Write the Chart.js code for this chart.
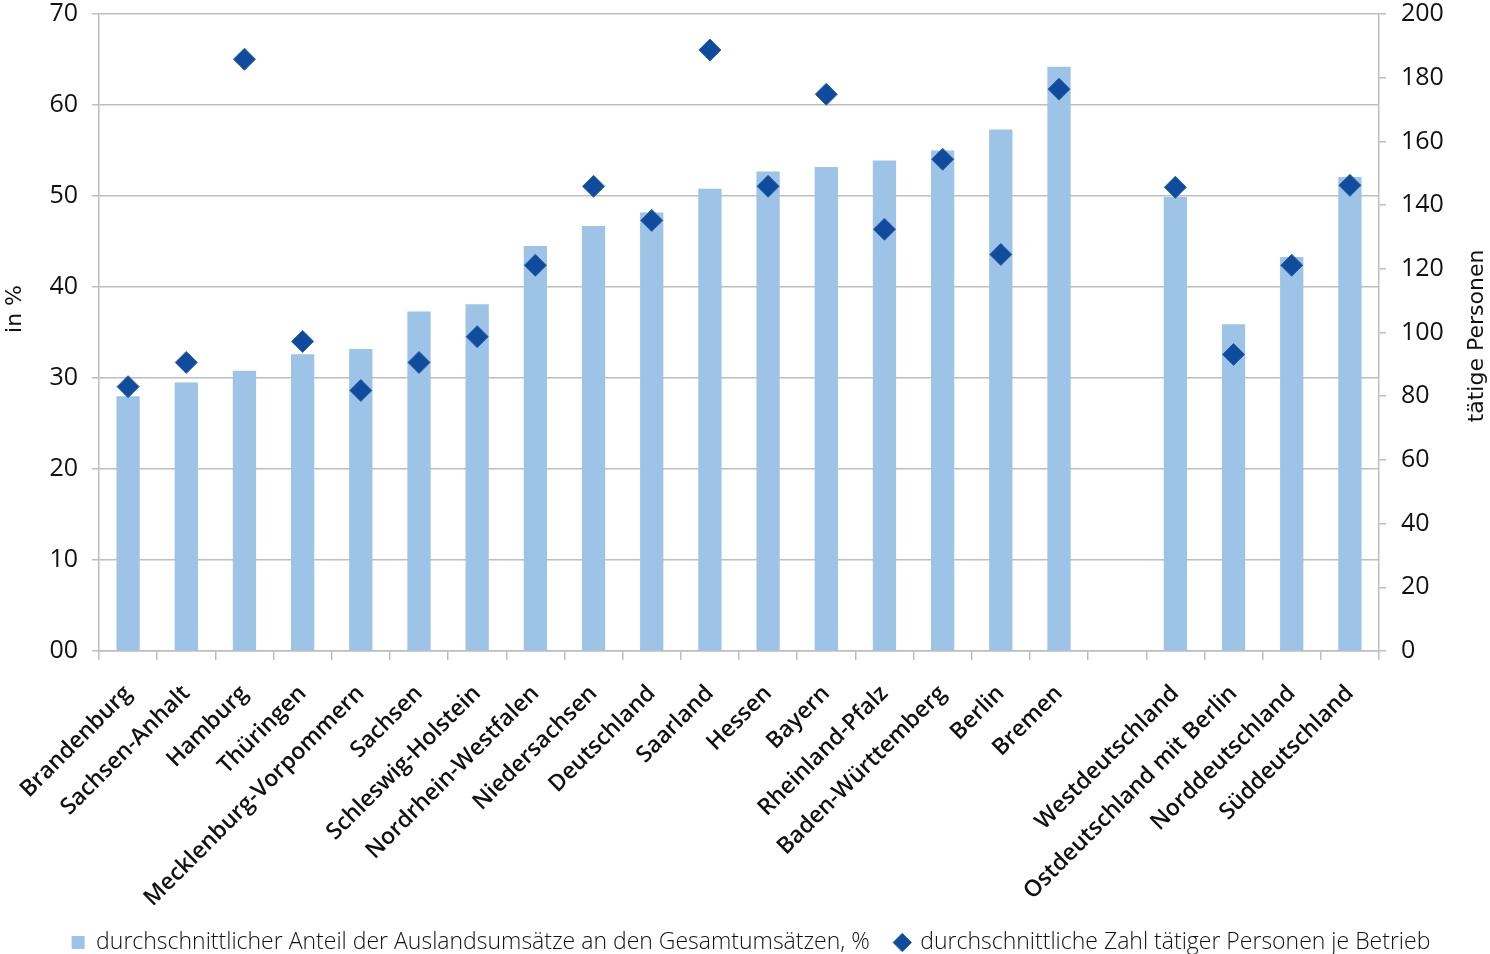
<!DOCTYPE html>
<html>
<head>
<meta charset="utf-8">
<script src="https://cdn.jsdelivr.net/npm/chart.js@4"></script>
<style>
html,body{margin:0;padding:0;background:#fff;}
#wrap{width:1490px;height:954px;position:relative;}
</style>
</head>
<body>
<div id="wrap"><canvas id="c" width="1490" height="954"></canvas></div>
<script>
const categories = ["Brandenburg","Sachsen-Anhalt","Hamburg","Thüringen","Mecklenburg-Vorpommern","Sachsen","Schleswig-Holstein","Nordrhein-Westfalen","Niedersachsen","Deutschland","Saarland","Hessen","Bayern","Rheinland-Pfalz","Baden-Württemberg","Berlin","Bremen","","Westdeutschland","Ostdeutschland mit Berlin","Norddeutschland","Süddeutschland"];
const shareForeignSales = [28.0,29.5,30.8,32.6,33.2,37.3,38.1,44.5,46.7,48.2,50.8,52.7,53.2,53.9,55.0,57.3,64.2,null,49.9,35.9,43.3,52.1];
const personsPerFirm = [83.0,90.6,185.8,97.2,81.8,90.6,98.7,121.1,145.9,135.2,188.7,145.9,174.8,132.4,154.4,124.5,176.4,null,145.6,93.1,121.1,146.2];
const leftTicks = [0,10,20,30,40,50,60,70];
const rightTicks = [0,20,40,60,80,100,120,140,160,180,200];
const seriesNames = ["durchschnittlicher Anteil der Auslandsumsätze an den Gesamtumsätzen, %","durchschnittliche Zahl tätiger Personen je Betrieb"];
const leftTitle = "in %";
const rightTitle = "tätige Personen";

const FONT = "'Open Sans', 'DejaVu Sans', sans-serif";
const gridCol = '#bdbdbd';

const titlesPlugin = {
  id: 'titles',
  afterDraw(chart){
    const ctx = chart.ctx;
    ctx.save();
    ctx.fillStyle = '#111';
    ctx.font = "22px 'DejaVu Sans', sans-serif";
    ctx.textAlign = 'center';
    ctx.textBaseline = 'middle';
    ctx.translate(15, 309);
    ctx.rotate(-Math.PI/2);
    ctx.fillText(leftTitle, 0, 0);
    ctx.restore();
    ctx.save();
    ctx.fillStyle = '#111';
    ctx.font = "22px 'DejaVu Sans', sans-serif";
    ctx.textAlign = 'center';
    ctx.textBaseline = 'middle';
    ctx.translate(1477, 336);
    ctx.rotate(-Math.PI/2);
    ctx.fillText(rightTitle, 0, 0);
    ctx.restore();
  }
};

function noPad(s){ s.paddingTop = 0; s.paddingBottom = 0; s.paddingLeft = 0; s.paddingRight = 0; }

new Chart(document.getElementById('c'), {
  data: {
    labels: categories,
    datasets: [
      {
        type: 'bar',
        label: seriesNames[0],
        data: shareForeignSales,
        backgroundColor: '#9DC3E6',
        borderWidth: 0,
        categoryPercentage: 1.0,
        barPercentage: 0.4,
        yAxisID: 'y',
        pointStyle: 'rect',
        order: 2
      },
      {
        type: 'line',
        label: seriesNames[1],
        data: personsPerFirm,
        showLine: false,
        pointStyle: 'rectRot',
        pointRadius: 11,
        pointHoverRadius: 11,
        backgroundColor: '#0F4C9E',
        borderColor: '#2A5FA8',
        borderWidth: 1,
        yAxisID: 'y1',
        order: 1
      }
    ]
  },
  options: {
    responsive: false,
    animation: false,
    events: [],
    layout: { padding: { left: 12, right: 0, top: 14, bottom: -10 } },
    plugins: {
      tooltip: { enabled: false },
      legend: {
        position: 'bottom',
        labels: {
          usePointStyle: true,
          boxWidth: 13,
          boxHeight: 13,
          padding: 26,
          color: '#111',
          sort: (a, b) => a.datasetIndex - b.datasetIndex,
          font: { family: FONT, size: 23, weight: '300' }
        }
      }
    },
    scales: {
      x: {
        offset: true,
        grid: { display: true, drawOnChartArea: false, offset: true, tickLength: 9, color: gridCol, lineWidth: 1.5 },
        border: { display: true, color: gridCol, width: 1.5 },
        ticks: {
          autoSkip: false,
          minRotation: 45,
          maxRotation: 45,
          padding: 20,
          color: '#111',
          font: { family: FONT, size: 23, weight: '600' }
        },
        afterFit(s){ s.height = 254; noPad(s); }
      },
      y: {
        position: 'left',
        min: 0, max: 70,
        afterBuildTicks(s){ s.ticks = leftTicks.map(v => ({value: v})); },
        grid: { color: gridCol, lineWidth: 1.5, tickLength: 7 },
        border: { display: true, color: gridCol, width: 1.5 },
        ticks: {
          padding: 14,
          color: '#111',
          font: { family: FONT, size: 25 },
          callback: v => v === 0 ? '00' : String(v)
        },
        afterFit(s){ s.width = 87; noPad(s); }
      },
      y1: {
        position: 'right',
        min: 0, max: 200,
        afterBuildTicks(s){ s.ticks = rightTicks.map(v => ({value: v})); },
        grid: { drawOnChartArea: false, color: gridCol, lineWidth: 1.5, tickLength: 7 },
        border: { display: true, color: gridCol, width: 1.5 },
        ticks: {
          padding: 15,
          color: '#111',
          font: { family: FONT, size: 25 },
          callback: v => String(v)
        },
        afterFit(s){ s.width = 111; noPad(s); }
      }
    }
  },
  plugins: [titlesPlugin]
});
</script>
</body>
</html>
